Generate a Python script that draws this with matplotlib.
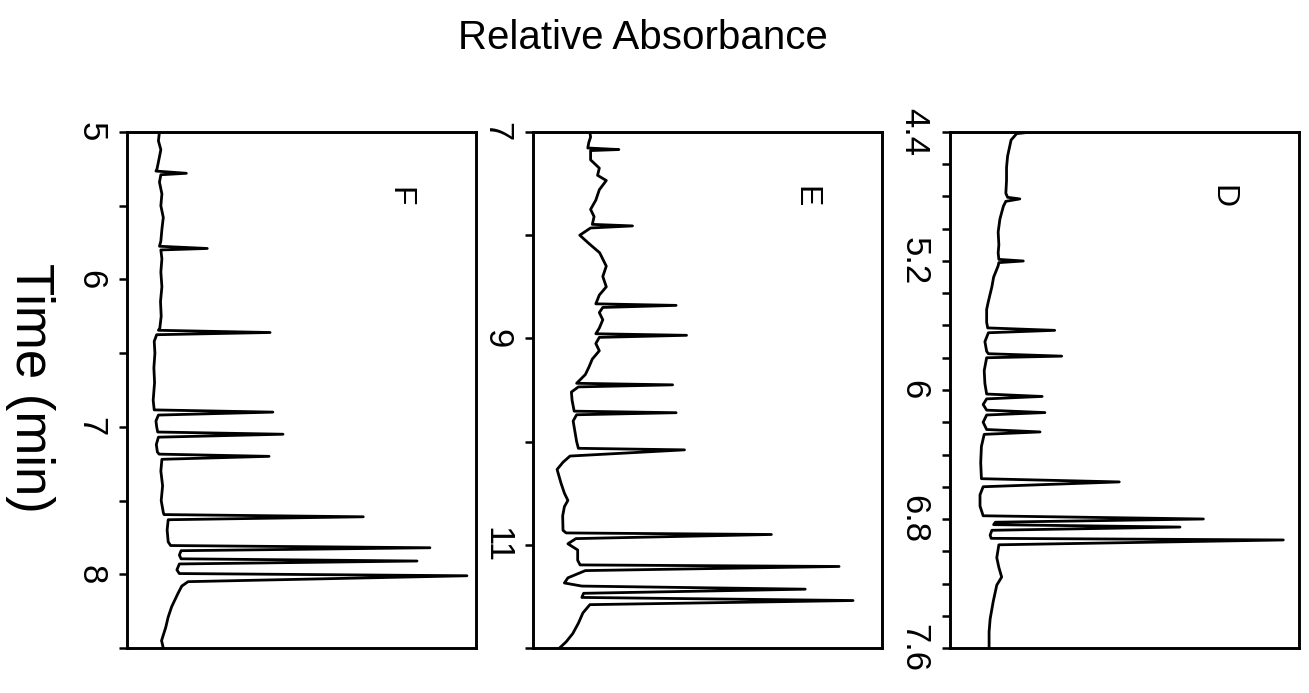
import matplotlib.pyplot as plt
from matplotlib.ticker import FixedLocator

plt.rcParams["font.family"] = ["Liberation Sans", "DejaVu Sans"]

# Chromatogram traces: time (min) vs relative absorbance (0 = left frame, 1 = right frame)
F_TIME = [5.00, 5.06, 5.12, 5.18, 5.25, 5.265, 5.28, 5.29, 5.34, 5.42, 5.50, 5.58, 5.66, 5.74, 5.775,
          5.79, 5.80, 5.86, 5.95, 6.05, 6.15, 6.25, 6.33, 6.345, 6.36, 6.375, 6.42, 6.50, 6.60, 6.70,
          6.82, 6.885, 6.90, 6.92, 6.96, 7.00, 7.035, 7.05, 7.07, 7.12, 7.17, 7.185, 7.20, 7.22, 7.30,
          7.40, 7.50, 7.58, 7.595, 7.61, 7.63, 7.70, 7.78, 7.805, 7.82, 7.84, 7.87, 7.895, 7.91, 7.93,
          7.97, 7.995, 8.01, 8.05, 8.08, 8.13, 8.22, 8.29, 8.36, 8.45, 8.50]
F_ABS = [0.093, 0.090, 0.097, 0.092, 0.086, 0.083, 0.170, 0.097, 0.093, 0.100, 0.097, 0.104, 0.100, 0.097, 0.093,
         0.230, 0.097, 0.100, 0.097, 0.100, 0.096, 0.098, 0.094, 0.090, 0.410, 0.085, 0.078, 0.080, 0.077, 0.079,
         0.075, 0.078, 0.418, 0.090, 0.083, 0.085, 0.088, 0.447, 0.090, 0.084, 0.087, 0.092, 0.407, 0.100, 0.097,
         0.102, 0.098, 0.104, 0.106, 0.677, 0.118, 0.115, 0.118, 0.125, 0.868, 0.155, 0.150, 0.155, 0.831, 0.150,
         0.143, 0.150, 0.974, 0.175, 0.157, 0.146, 0.128, 0.118, 0.111, 0.099, 0.104]

E_TIME = [7.00, 7.05, 7.10, 7.155, 7.17, 7.18, 7.27, 7.35, 7.42, 7.47, 7.56, 7.66, 7.75, 7.82, 7.895,
          7.91, 7.93, 8.00, 8.08, 8.17, 8.30, 8.40, 8.50, 8.58, 8.665, 8.68, 8.70, 8.75, 8.82, 8.90,
          8.955, 8.97, 8.99, 9.05, 9.12, 9.20, 9.28, 9.35, 9.435, 9.45, 9.47, 9.52, 9.60, 9.705, 9.72,
          9.74, 9.80, 9.90, 10.00, 10.065, 10.08, 10.14, 10.20, 10.27, 10.40, 10.50, 10.57, 10.63, 10.72,
          10.86, 10.885, 10.90, 10.94, 10.99, 11.05, 11.15, 11.195, 11.21, 11.25, 11.32, 11.37, 11.40,
          11.43, 11.47, 11.51, 11.54, 11.58, 11.66, 11.76, 11.86, 11.94, 12.00]
E_ABS = [0.163, 0.165, 0.160, 0.157, 0.246, 0.165, 0.165, 0.190, 0.185, 0.210, 0.190, 0.180, 0.165, 0.175, 0.170,
         0.285, 0.165, 0.134, 0.160, 0.191, 0.210, 0.200, 0.210, 0.190, 0.180, 0.410, 0.200, 0.190, 0.200, 0.190,
         0.180, 0.440, 0.190, 0.180, 0.190, 0.170, 0.160, 0.150, 0.125, 0.400, 0.130, 0.110, 0.112, 0.118, 0.410,
         0.125, 0.115, 0.120, 0.125, 0.130, 0.434, 0.106, 0.086, 0.069, 0.080, 0.090, 0.100, 0.090, 0.085,
         0.086, 0.095, 0.683, 0.123, 0.100, 0.128, 0.128, 0.135, 0.877, 0.150, 0.100, 0.090, 0.140,
         0.780, 0.145, 0.140, 0.917, 0.163, 0.143, 0.130, 0.114, 0.095, 0.076]

D_TIME = [4.40, 4.41, 4.45, 4.55, 4.62, 4.70, 4.78, 4.805, 4.815, 4.83, 4.86, 4.94, 5.02, 5.10, 5.15,
          5.19, 5.20, 5.21, 5.23, 5.30, 5.36, 5.45, 5.50, 5.58, 5.615, 5.63, 5.645, 5.70, 5.76, 5.775,
          5.79, 5.80, 5.88, 5.96, 6.025, 6.04, 6.055, 6.09, 6.125, 6.14, 6.155, 6.20, 6.245, 6.26, 6.275,
          6.35, 6.45, 6.55, 6.57, 6.60, 6.65, 6.72, 6.78, 6.80, 6.82, 6.835, 6.85, 6.87, 6.90, 6.92,
          6.93, 6.96, 7.04, 7.10, 7.16, 7.21, 7.31, 7.42, 7.50, 7.60]
D_ABS = [0.234, 0.191, 0.175, 0.165, 0.162, 0.162, 0.160, 0.165, 0.200, 0.160, 0.153, 0.143, 0.138, 0.140, 0.138,
         0.140, 0.210, 0.140, 0.138, 0.125, 0.120, 0.110, 0.105, 0.105, 0.108, 0.300, 0.110, 0.100, 0.105, 0.110,
         0.320, 0.105, 0.098, 0.100, 0.105, 0.264, 0.105, 0.095, 0.105, 0.272, 0.105, 0.095, 0.105, 0.258, 0.098,
         0.090, 0.088, 0.090, 0.485, 0.095, 0.086, 0.086, 0.095, 0.726, 0.130, 0.125, 0.659, 0.120, 0.115, 0.118,
         0.955, 0.140, 0.134, 0.140, 0.148, 0.134, 0.124, 0.115, 0.112, 0.112]

# axis ranges and ticks per panel
F_RANGE = (5, 8.5)
F_MAJOR = [5, 6, 7, 8]
F_MINOR = [5.5, 6.5, 7.5, 8.5]
F_LABELS = ["5", "6", "7", "8"]

E_RANGE = (7, 12)
E_MAJOR = [7, 9, 11]
E_MINOR = [8, 10, 12]
E_LABELS = ["7", "9", "11"]

D_RANGE = (4.4, 7.6)
D_MAJOR = [4.4, 5.2, 6.0, 6.8, 7.6]
D_MINOR = [4.6, 4.8, 5.0, 5.4, 5.6, 5.8, 6.2, 6.4, 6.6, 7.0, 7.2, 7.4]
D_LABELS = ["4.4", "5.2", "6", "6.8", "7.6"]

PANELS = [
    ("F", 127, F_TIME, F_ABS, F_RANGE, F_MAJOR, F_MINOR, F_LABELS),
    ("E", 533, E_TIME, E_ABS, E_RANGE, E_MAJOR, E_MINOR, E_LABELS),
    ("D", 950, D_TIME, D_ABS, D_RANGE, D_MAJOR, D_MINOR, D_LABELS),
]

W, H = 1309, 693
fig = plt.figure(figsize=(W / 100, H / 100), dpi=100)

for name, left_px, t, a, rng, major, minor, labels in PANELS:
    ax = fig.add_axes([left_px / W, 1 - 648 / H, 349 / W, 516 / H])
    ax.plot(a, t, color="black", lw=2.0)
    ax.set_xlim(0, 1)
    ax.set_ylim(rng[1], rng[0])
    ax.set_xticks([])
    ax.yaxis.set_major_locator(FixedLocator(major))
    ax.yaxis.set_minor_locator(FixedLocator(minor))
    ax.set_yticklabels(labels, rotation=-90, va="center", fontsize=25)
    ax.tick_params(axis="y", which="both", direction="out", length=6, width=1.8, pad=8)
    for sp in ax.spines.values():
        sp.set_linewidth(2.1)
    ax.text(0.78, 0.875, name, transform=ax.transAxes, rotation=-90,
            ha="center", va="center", fontsize=23)

fig.text(643 / W, 1 - 38 / H, "Relative Absorbance", ha="center", va="center", fontsize=29)
fig.text(30 / W, 1 - 388 / H, "Time (min)", ha="center", va="center", rotation=-90, fontsize=38)

fig.savefig("out.png", dpi=100)
